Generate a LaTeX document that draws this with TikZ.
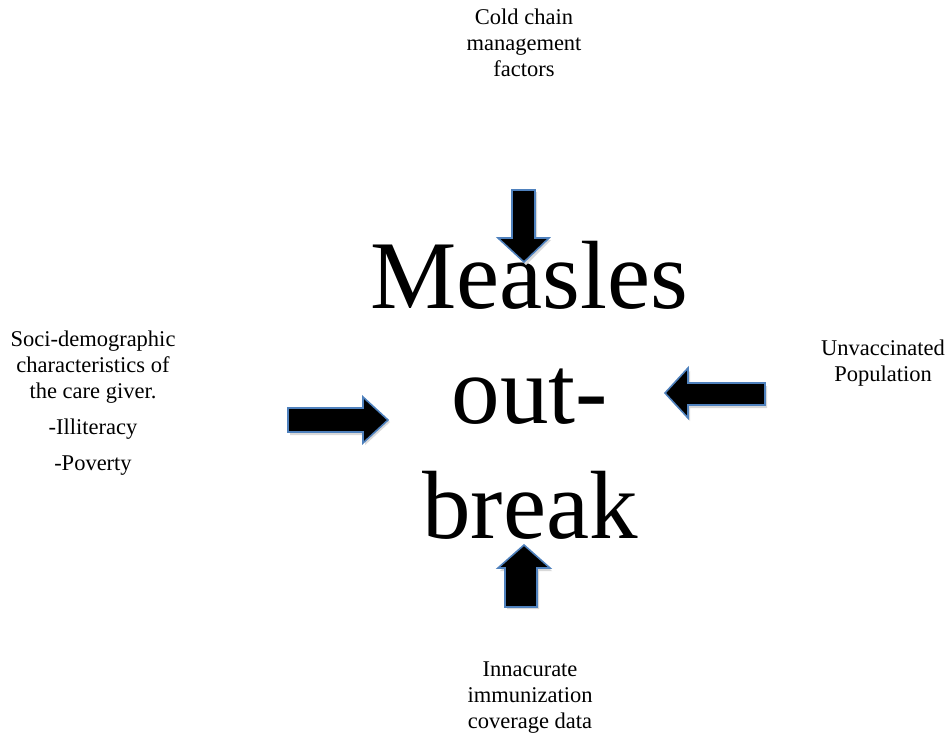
\documentclass[tikz,border=0pt]{standalone}
\usepackage{fontspec}
\setmainfont{Liberation Serif}
\definecolor{arrowedge}{HTML}{4F81BD}
\tikzset{
  blockarrow/.style={fill=black, draw=arrowedge, line width=1.6pt, line join=miter},
  arrowshadow/.style={fill=black!15, draw=none},
  label/.style={align=center, font=\fontsize{22.5}{26}\selectfont, inner sep=0pt},
  bigword/.style={align=center, font=\fontsize{97}{115}\selectfont, inner sep=0pt}
}
\begin{document}
\begin{tikzpicture}[x=1pt,y=-1pt]
\useasboundingbox (0,0) rectangle (951,740);
% main text
\node[bigword, anchor=base] (m1) at (529,308) {Measles};
\node[bigword, anchor=base] (m2) at (530,423) {out-};
\node[bigword, anchor=base] (m3) at (530,538) {break};
% labels
\node[label, anchor=north] (top) at (524,9) {Cold chain\\management\\factors};
\node[label, anchor=north] (left) at (93,331) {Soci-demographic\\characteristics of\\the care giver.\\[10pt]-Illiteracy\\[10pt]-Poverty};
\node[label, anchor=north] (right) at (883,340) {Unvaccinated\\Population};
\node[label, anchor=north] (bottom) at (530,662) {Innacurate\\immunization\\coverage data};
% arrows: shadows
\fill[arrowshadow] (514,192) -- (537,192) -- (537,240) -- (551,240) -- (526,265) -- (501,240) -- (514,240) -- cycle;
\fill[arrowshadow] (290,410) -- (365,410) -- (365,400) -- (390,422) -- (365,445) -- (365,435) -- (290,435) -- cycle;
\fill[arrowshadow] (767,386) -- (690,386) -- (690,371) -- (667,396) -- (690,421) -- (690,408) -- (767,408) -- cycle;
\fill[arrowshadow] (507,609) -- (539,609) -- (539,571) -- (552,571) -- (526,548) -- (500,571) -- (507,571) -- cycle;
% arrows
\draw[blockarrow] (512,190) -- (535,190) -- (535,238) -- (549,238) -- (524,262) -- (498,238) -- (512,238) -- cycle;
\draw[blockarrow] (288,408) -- (363,408) -- (363,397) -- (388,420) -- (363,443) -- (363,432) -- (288,432) -- cycle;
\draw[blockarrow] (765,383) -- (688,383) -- (688,368) -- (665,393) -- (688,418) -- (688,405) -- (765,405) -- cycle;
\draw[blockarrow] (505,607) -- (537,607) -- (537,568) -- (550,568) -- (524,545) -- (498,568) -- (505,568) -- cycle;
\end{tikzpicture}
\end{document}
